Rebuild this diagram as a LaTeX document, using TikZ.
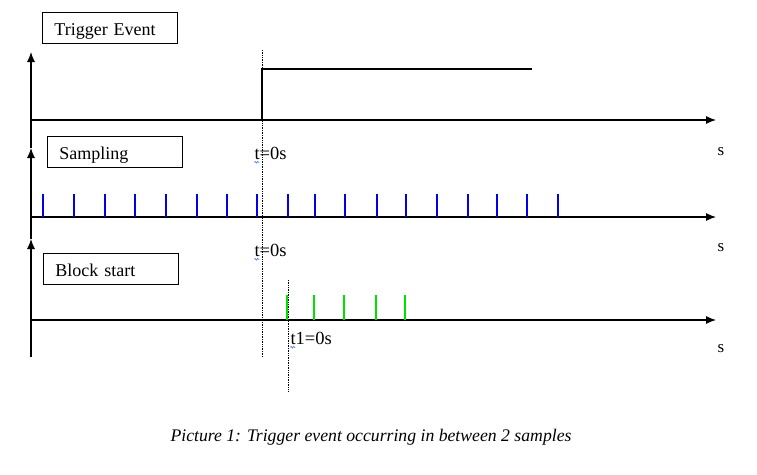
\documentclass[tikz,border=0pt]{standalone}
\usepackage{fontspec}
\setmainfont{Liberation Serif}
\usetikzlibrary{positioning, arrows.meta, decorations.pathmorphing}

\definecolor{tickblue}{RGB}{0,0,235}
\definecolor{tickgreen}{RGB}{0,225,0}
\definecolor{spellblue}{RGB}{70,120,220}

\tikzset{
  signal box/.style={draw, line width=0.8pt, anchor=north west, minimum width=135pt,
    minimum height=31pt, text width=111pt, inner xsep=12pt, inner ysep=0pt, align=left,
    text height=16pt, text depth=0pt, font=\fontsize{18}{20}\selectfont},
  time label/.style={anchor=west, inner sep=0pt, font=\fontsize{18.5}{20}\selectfont},
  unit label/.style={inner sep=0pt, font=\fontsize{17}{19}\selectfont},
  marker/.style={densely dotted, line width=0.7pt},
  spell/.style={spellblue, line width=0.6pt, decorate,
    decoration={snake, amplitude=0.9pt, segment length=2.5pt}}
}

\begin{document}
\begin{tikzpicture}[x=1pt, y=-1pt, line width=1.1pt]
		\def\xaxis{31};
		\def\xend{716};
		\def\yone{120};
		\def\ytwo{217};
		\def\ythree{320};
		\def\tevent{262};
		\def\tblock{288};

		\useasboundingbox (0,0) rectangle (757,474);

		% axes
		\coordinate (bottom) at (\xaxis,357);
		\coordinate (up3) at (\xaxis,239);
		\coordinate (up2) at (\xaxis,148);
		\coordinate (up1) at (\xaxis,52);
		\begin{scope}[-{Latex[length=10pt,width=8pt]}]
			\draw (bottom) -- (up3);
			\draw (up3) -- (up2);
			\draw (up2) -- (up1);
			\foreach \y/\n in {\yone/one, \ytwo/two, \ythree/three} {
				\coordinate (start \n) at (\xaxis,\y);
				\coordinate (end \n) at (\xend,\y);
				\draw (start \n) -- (end \n);
			}
		\end{scope}

		% labels
		\node[signal box] (trigger) at (42,12) {Trigger Event};
		\node[signal box] (sampling) at (47,136) {Sampling};
		\node[signal box] (block) at (43,253) {Block start};

		\node[unit label] (s one) at (721,152) {s};
		\node[unit label] (s two) at (721,248) {s};
		\node[unit label] (s three) at (721,349) {s};

		\node[time label] (tzero a) at (254,153) {t=0s};
		\node[time label] (tzero b) at (254,250) {t=0s};
		\node[time label] (tone) at (290,338) {t1=0s};
		\foreach \n in {tzero a, tzero b, tone}
			\draw[spell] ([xshift=0.3pt,yshift=-2.5pt]\n.south west) -- ++(5,0);

		% trigger step
		\coordinate (rise) at (\tevent,\yone);
		\coordinate (high) at (\tevent,69);
		\coordinate (high end) at (532,69);
		\draw (rise) -- (high) -- (high end);

		% sample ticks
		\foreach \x in {43,74,105,135,166,197,227,257,288,315,345,377,406,437,468,497,527,558}
			\draw[tickblue] (\x,\ytwo) -- ++(0,-23);

		% block ticks
		\draw[tickgreen, line width=1.8pt] (287,\ythree) -- ++(0,-25);
		\foreach \x in {314,344,376,405}
			\draw[tickgreen] (\x,\ythree) -- ++(0,-25);

		% time markers
		\coordinate (event top) at (\tevent,50);
		\coordinate (event bottom) at (\tevent,357);
		\coordinate (block top) at (\tblock,280);
		\coordinate (block bottom) at (\tblock,392);
		\draw[marker] (event top) -- (event bottom);
		\draw[marker] (block top) -- (block bottom);

		\node[font=\fontsize{17.7}{19}\selectfont\itshape] (caption) at (371,437)
			{Picture 1: Trigger event occurring in between 2 samples};
	\end{tikzpicture}
\end{document}
